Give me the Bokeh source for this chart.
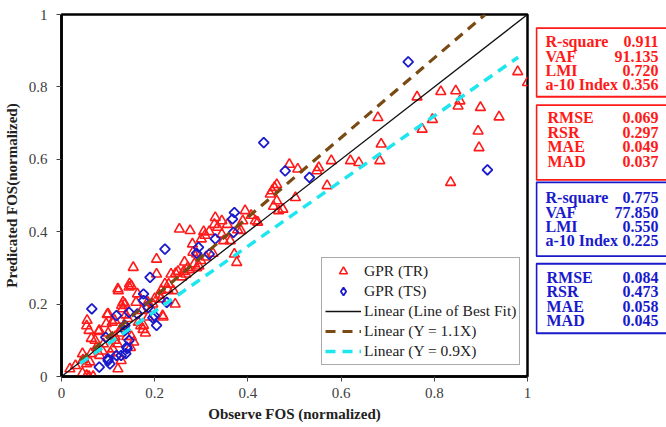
import math
from bokeh.plotting import figure
from bokeh.models import (Range1d, FixedTicker, Legend, LegendItem)
from bokeh.layouts import row
from bokeh.core.properties import value
from bokeh.embed import file_html
from bokeh.resources import INLINE

# ---------------- data ----------------
tr_x = [0.416, 0.421, 0.448, 0.457, 0.462, 0.466, 0.475, 0.455, 0.452, 0.462, 0.489, 0.502, 0.507,
        0.548, 0.552, 0.570, 0.579, 0.620, 0.638, 0.679, 0.683, 0.686, 0.763, 0.774, 0.796, 0.814,
        0.835, 0.846, 0.851, 0.855, 0.894, 0.899, 0.896, 0.939, 0.979, 1.000,
        0.253, 0.276, 0.281, 0.267, 0.271, 0.285, 0.290, 0.299, 0.308, 0.317, 0.330, 0.335, 0.344,
        0.344, 0.348, 0.362, 0.371, 0.376, 0.385, 0.389, 0.394, 0.305, 0.328, 0.356, 0.407, 0.378,
        0.300, 0.282, 0.264, 0.290, 0.310, 0.262, 0.275, 0.295, 0.325, 0.250, 0.258, 0.245,
        0.154, 0.163, 0.172, 0.176, 0.186, 0.204, 0.204, 0.213, 0.217, 0.222, 0.235, 0.240, 0.244,
        0.146, 0.150, 0.121, 0.214, 0.230, 0.228, 0.132, 0.129, 0.160, 0.218, 0.193, 0.114, 0.175,
        0.170, 0.180, 0.165, 0.150, 0.155, 0.148, 0.196, 0.200, 0.210, 0.185,
        0.018, 0.045, 0.054, 0.059, 0.068, 0.045, 0.063, 0.054, 0.054, 0.059, 0.072, 0.081, 0.100,
        0.109, 0.122, 0.136, 0.131, 0.145, 0.098, 0.055, 0.080, 0.064, 0.096, 0.128, 0.110, 0.114,
        0.046, 0.061, 0.082, 0.128, 0.121, 0.090, 0.120, 0.105, 0.115, 0.125, 0.135, 0.140, 0.100,
        0.088, 0.075, 0.030, 0.138, 0.142]
tr_y = [0.430, 0.426, 0.504, 0.522, 0.485, 0.458, 0.462, 0.470, 0.513, 0.530, 0.586, 0.494, 0.573,
        0.568, 0.577, 0.527, 0.596, 0.596, 0.591, 0.715, 0.596, 0.642, 0.772, 0.683, 0.710, 0.787,
        0.536, 0.789, 0.747, 0.761, 0.678, 0.743, 0.632, 0.717, 0.842, 0.812,
        0.407, 0.403, 0.366, 0.283, 0.301, 0.311, 0.338, 0.320, 0.390, 0.400, 0.439, 0.412, 0.430,
        0.393, 0.375, 0.375, 0.338, 0.315, 0.403, 0.430, 0.458, 0.400, 0.420, 0.420, 0.445, 0.405,
        0.380, 0.343, 0.316, 0.300, 0.330, 0.290, 0.295, 0.305, 0.340, 0.290, 0.275, 0.285,
        0.301, 0.228, 0.182, 0.141, 0.164, 0.283, 0.324, 0.214, 0.168, 0.256, 0.283, 0.237, 0.200,
        0.256, 0.250, 0.242, 0.238, 0.255, 0.240, 0.205, 0.196, 0.205, 0.164, 0.187, 0.155, 0.130,
        0.140, 0.120, 0.150, 0.110, 0.095, 0.080, 0.200, 0.215, 0.225, 0.205,
        0.021, 0.009, 0.003, 0.000, 0.000, 0.063, 0.063, 0.035, 0.140, 0.127, 0.100, 0.127, 0.173,
        0.150, 0.237, 0.200, 0.187, 0.247, 0.171, 0.155, 0.124, 0.105, 0.146, 0.133, 0.076, 0.100,
        0.046, 0.040, 0.058, 0.044, 0.021, 0.090, 0.090, 0.065, 0.110, 0.120, 0.140, 0.110, 0.120,
        0.070, 0.080, 0.030, 0.170, 0.160]

ts_x = [0.065, 0.081, 0.095, 0.100, 0.104, 0.118, 0.128, 0.136, 0.140, 0.145, 0.145, 0.163, 0.176,
        0.176, 0.186, 0.190, 0.199, 0.204, 0.222, 0.226, 0.294, 0.290, 0.317, 0.330, 0.367, 0.371,
        0.369, 0.434, 0.480, 0.532, 0.744, 0.914, 0.141, 0.138, 0.118, 0.100, 0.196, 0.136]
ts_y = [0.187, 0.026, 0.108, 0.049, 0.035, 0.168, 0.058, 0.127, 0.081, 0.100, 0.177, 0.173, 0.228,
        0.210, 0.191, 0.274, 0.168, 0.141, 0.352, 0.205, 0.357, 0.340, 0.338, 0.380, 0.435, 0.453,
        0.398, 0.646, 0.568, 0.550, 0.869, 0.571, 0.077, 0.063, 0.058, 0.044, 0.162, 0.141]

fit_x = [0.0, 1.0]
fit_y = [0.0, 1.0]
up_x = [0.04, 1.0 / 1.1]
up_y = [1.1 * v for v in up_x]
lo_x = [0.04, 0.98]
lo_y = [0.9 * v for v in lo_x]

tick_vals = [0, 0.2, 0.4, 0.6, 0.8, 1]
tick_text = ["0", "0.2", "0.4", "0.6", "0.8", "1"]

tr_stats1_names = ["R-square", "VAF", "LMI", "a-10 Index"]
tr_stats1_vals = ["0.911", "91.135", "0.720", "0.356"]
tr_stats2_names = ["RMSE", "RSR", "MAE", "MAD"]
tr_stats2_vals = ["0.069", "0.297", "0.049", "0.037"]
ts_stats1_names = ["R-square", "VAF", "LMI", "a-10 Index"]
ts_stats1_vals = ["0.775", "77.850", "0.550", "0.225"]
ts_stats2_names = ["RMSE", "RSR", "MAE", "MAD"]
ts_stats2_vals = ["0.084", "0.473", "0.058", "0.045"]

SERIF = "Liberation Serif"
RED = "#ff1a1a"
BLUE = "#1a1acc"

# ---------------- main plot ----------------
p = figure(width=535, height=427, output_backend="svg", toolbar_location=None,
           x_range=Range1d(0, 1), y_range=Range1d(0, 1),
           min_border_left=60, min_border_right=8, min_border_top=14, min_border_bottom=51)
p.grid.visible = False
p.outline_line_color = "black"
p.outline_line_width = 2.5
p.background_fill_color = "white"
p.border_fill_color = "white"

for ax in (p.xaxis[0], p.yaxis[0]):
    ax.ticker = FixedTicker(ticks=tick_vals)
    ax.major_label_overrides = {v: t for v, t in zip(tick_vals, tick_text)}
    ax.minor_tick_line_color = None
    ax.axis_line_color = "black"
    ax.axis_line_width = 2.5
    ax.major_tick_line_color = "#444444"
    ax.major_tick_in = 0
    ax.major_tick_out = 5
    ax.major_label_text_font = SERIF
    ax.major_label_text_font_size = "15px"
    ax.major_label_text_color = "#404040"
    ax.axis_label_text_font = SERIF
    ax.axis_label_text_font_size = "15px"
    ax.axis_label_text_font_style = "bold"
    ax.axis_label_text_color = "#222222"

p.xaxis.axis_label = "Observe FOS (normalized)"
p.yaxis.axis_label = "Predicated FOS(normalized)"
p.xaxis.major_label_standoff = 6
p.xaxis.axis_label_standoff = 5
p.yaxis.major_label_standoff = 9
p.yaxis.axis_label_standoff = 6

r_tr = p.scatter(tr_x, tr_y, marker="triangle", size=10, fill_color=None,
                 line_color=RED, line_width=1.6)
p.rect(ts_x, ts_y, width=7, height=7, width_units="screen", height_units="screen",
       angle=45, angle_units="deg", fill_color=None, line_color=BLUE, line_width=1.8)
# legend key for the test-set markers (hidden; drawn only in the legend)
r_ts_key = p.scatter(ts_x[:1], ts_y[:1], marker="diamond", size=12, fill_color=None,
                     line_color=BLUE, line_width=1.8, visible=False)
r_fit = p.line(fit_x, fit_y, line_color="#111111", line_width=1.3)
r_up = p.line(up_x, up_y, line_color="#7a4a14", line_width=3.2, line_dash="10 7")
r_lo = p.line(lo_x, lo_y, line_color="#1ee6ef", line_width=3.5, line_dash="10 7")

legend = Legend(items=[
    LegendItem(label="GPR (TR)", renderers=[r_tr]),
    LegendItem(label="GPR (TS)", renderers=[r_ts_key]),
    LegendItem(label="Linear (Line of Best Fit)", renderers=[r_fit]),
    LegendItem(label="Linear (Y = 1.1X)", renderers=[r_up]),
    LegendItem(label="Linear (Y = 0.9X)", renderers=[r_lo]),
], location=(260, 11))
legend.label_text_font = SERIF
legend.label_text_font_size = "15.5px"
legend.label_text_color = "#222222"
legend.label_height = 20
legend.glyph_height = 20
legend.glyph_width = 36
legend.label_standoff = 3
legend.spacing = 0
legend.padding = 3
legend.margin = 0
legend.border_line_color = "#555555"
legend.border_line_width = 1.5
legend.background_fill_alpha = 1
p.add_layout(legend)

# ---------------- statistics panel ----------------
q = figure(width=131, height=427, output_backend="svg", toolbar_location=None,
           x_range=Range1d(535, 666), y_range=Range1d(427, 0),
           min_border=0, min_border_left=0, min_border_right=0,
           min_border_top=0, min_border_bottom=0)
q.axis.visible = False
q.grid.visible = False
q.outline_line_color = None

box_top = [16, 107, 198, 294]
box_bot = [97, 195, 285, 376]
box_col = [RED, RED, BLUE, BLUE]
q.quad(left=[536] * 4, right=[700] * 4, top=box_top, bottom=box_bot,
       fill_color=None, line_color=box_col, line_width=1.8)

row_y = [[32, 49, 66, 83], [122, 139, 156, 173], [216, 233, 250, 267], [310, 327, 344, 361]]
label_x = [545, 547, 545, 546]
groups = [(tr_stats1_names, tr_stats1_vals, RED), (tr_stats2_names, tr_stats2_vals, RED),
          (ts_stats1_names, ts_stats1_vals, BLUE), (ts_stats2_names, ts_stats2_vals, BLUE)]
for (names, vals, col), ys, lx in zip(groups, row_y, label_x):
    q.text(x=[lx] * len(names), y=ys, text=names, text_font=value(SERIF),
           text_font_style="bold", text_font_size="16px", text_color=col,
           text_baseline="middle", text_align="left")
    q.text(x=[658] * len(vals), y=ys, text=vals, text_font=value(SERIF),
           text_font_style="bold", text_font_size="16px", text_color=col,
           text_baseline="middle", text_align="right")

layout = row(p, q)
open("out.html", "w").write(file_html(layout, INLINE))
